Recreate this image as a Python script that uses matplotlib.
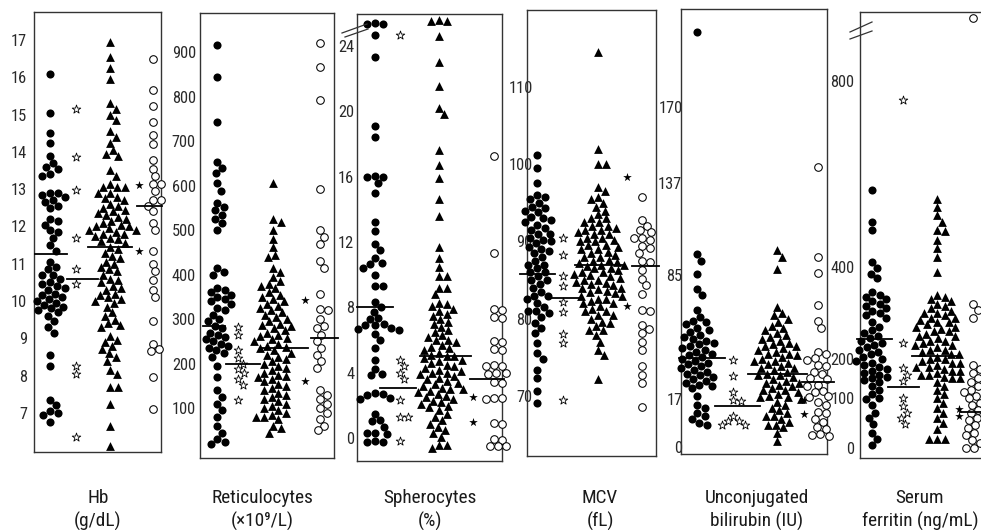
import numpy as np
import matplotlib
matplotlib.use("Agg")
import matplotlib.pyplot as plt
from matplotlib.lines import Line2D
from matplotlib import font_manager as fm

W, H = 981, 530

# pick a condensed sans font if one is installed
COND = ("condensed", "semi-condensed", "extra-condensed", "ultra-condensed")


def _is_regular(f):
    return f.style == "normal" and str(f.weight) in ("400", "normal", "regular", "book")


cands = [f for f in fm.fontManager.ttflist
         if _is_regular(f) and ("Narrow" in f.name or "Condensed" in f.name or str(f.stretch) in COND)]
prio = ["Liberation Sans Narrow", "Arial Narrow", "Roboto Condensed", "Open Sans Condensed",
        "Noto Sans", "DejaVu Sans Condensed", "DejaVu Sans"]
chosen = None
for p in prio:
    for f in cands:
        if f.name == p:
            chosen = f
            break
    if chosen:
        break
if chosen is None and cands:
    chosen = cands[0]
if chosen is not None:
    FP = fm.FontProperties(fname=chosen.fname)
else:
    FP = fm.FontProperties(family="Liberation Sans")

# ---------------- data ----------------
titles = ["Hb\n(g/dL)", "Reticulocytes\n(\u00d710\u2079/L)", "Spherocytes\n(%)", "MCV\n(fL)",
          "Unconjugated\nbilirubin (IU)", "Serum\nferritin (ng/mL)"]

hb_ticks = [7, 8, 9, 10, 11, 12, 13, 14, 15, 16, 17]
hb_circle = [16.1, 15.05, 14.5, 14.25, 13.9, 13.7, 13.6, 13.55, 13.4, 13.35, 12.9, 12.9, 12.85, 12.8,
             12.7, 12.65, 12.55, 12.5, 12.2, 12.15, 12.05, 11.9, 11.85, 11.7, 11.5, 11.35, 11.05, 10.9,
             10.85, 10.7, 10.7, 10.6, 10.5, 10.45, 10.4, 10.35, 10.3, 10.2, 10.15, 10.1, 10.05, 10.0,
             9.95, 9.9, 9.85, 9.8, 9.75, 9.7, 9.6, 9.45, 9.3, 9.15, 8.55, 8.25, 7.35, 7.2, 7.05, 7.0,
             6.95, 6.75]
hb_star = [15.15, 13.85, 12.97, 11.7, 10.85, 10.45, 8.25, 8.05, 6.35]
hb_tri = [16.95, 16.55, 16.25, 15.95, 15.3, 15.15, 15.0, 14.85, 14.55, 14.4, 14.25, 14.05, 13.95, 13.9,
          13.5, 13.35, 13.15, 13.05, 13.05, 13.05, 12.9, 12.9, 12.8, 12.75, 12.7, 12.6, 12.55, 12.5,
          12.45, 12.4, 12.35, 12.3, 12.25, 12.2, 12.15, 12.1, 12.05, 12.0, 12.0, 11.95, 11.9, 11.9,
          11.85, 11.8, 11.8, 11.75, 11.7, 11.65, 11.6, 11.55, 11.45, 11.4, 11.3, 11.2, 11.15, 11.05,
          11.0, 10.9, 10.85, 10.8, 10.7, 10.6, 10.55, 10.5, 10.4, 10.35, 10.3, 10.2, 10.15, 10.1,
          10.05, 10.0, 9.95, 9.85, 9.7, 9.6, 9.5, 9.4, 9.35, 9.3, 9.05, 8.95, 8.9, 8.8, 8.7, 8.6, 8.5,
          8.4, 8.15, 8.05, 7.7, 7.7, 7.25, 6.65, 6.1]
hb_fstar = [13.1, 11.35]
hb_ocircle = [16.5, 15.67, 15.22, 14.8, 14.45, 14.2, 13.78, 13.55, 13.35, 13.15, 13.15, 12.95, 12.7,
              12.7, 12.55, 12.4, 12.1, 11.9, 11.35, 11.0, 10.8, 10.55, 10.3, 10.1, 9.45, 8.85, 8.7,
              8.65, 7.95, 7.1]
hb_median = [11.25, 10.6, 11.45, 12.55]

ret_ticks = [100, 200, 300, 400, 500, 600, 700, 800, 900]
ret_circle = [916, 844, 743, 654, 640, 628, 605, 589, 562, 552, 545, 535, 525, 515, 500, 415, 405, 400,
              370, 365, 360, 355, 350, 345, 340, 335, 325, 320, 310, 300, 295, 285, 280, 270, 265, 260,
              255, 250, 245, 240, 235, 230, 225, 215, 195, 170, 140, 125, 110, 95, 80, 60, 45, 30, 25, 20]
ret_star = [283, 265, 231, 212, 200, 188, 178, 165, 152, 119]
ret_tri = [605, 525, 518, 500, 480, 462, 445, 440, 415, 405, 395, 385, 380, 375, 370, 360, 355, 350,
           345, 340, 335, 330, 325, 320, 315, 310, 305, 300, 295, 290, 288, 285, 280, 275, 270, 265,
           262, 258, 255, 250, 245, 240, 238, 235, 230, 225, 220, 215, 210, 205, 200, 195, 190, 185,
           180, 175, 172, 170, 165, 160, 155, 150, 145, 140, 135, 130, 125, 120, 115, 110, 105, 100,
           95, 90, 85, 80, 80, 75, 60, 55, 45]
ret_fstar = [343, 160]
ret_ocircle = [920, 866, 793, 593, 500, 485, 470, 430, 415, 356, 322, 320, 300, 285, 280, 265, 250,
               235, 220, 205, 190, 140, 130, 120, 110, 100, 90, 75, 60, 50]
ret_median = [285, 200, 236, 258]

sph_ticks = [0, 4, 8, 12, 16, 20, 24]
sph_circle = [25.4, 25.3, 25.3, 24.65, 23.3, 19.1, 18.4, 16.05, 16.0, 16.0, 15.6, 15.0, 13.2, 12.7,
              11.9, 11.5, 11.0, 10.7, 10.65, 10.4, 10.0, 9.3, 9.3, 8.35, 8.0, 7.75, 7.35, 7.3, 7.0,
              6.95, 6.9, 6.75, 6.7, 6.65, 6.4, 6.0, 5.5, 4.8, 4.25, 3.95, 3.85, 2.75, 2.7, 2.65, 2.45,
              2.4, 1.5, 1.1, 1.05, 0.7, 0.35, 0.3, 0.25, -0.15, -0.2, -0.25]
sph_star = [24.65, 4.8, 4.4, 4.0, 3.6, 2.35, 1.3, 1.3, -0.15]
sph_tri = [25.6, 25.5, 25.5, 24.6, 23.0, 21.55, 20.2, 19.8, 17.6, 16.7, 15.9, 14.6, 13.6, 11.7, 11.0,
           10.5, 9.95, 9.9, 9.2, 9.2, 8.8, 8.3, 8.2, 8.1, 7.9, 7.8, 7.6, 7.5, 7.3, 7.1, 7.0, 6.8, 6.6,
           6.5, 6.3, 6.2, 6.0, 6.0, 5.9, 5.7, 5.6, 5.5, 5.4, 5.2, 5.1, 5.0, 5.0, 4.9, 4.8, 4.7, 4.6,
           4.5, 4.4, 4.3, 4.2, 4.1, 4.0, 4.0, 3.9, 3.8, 3.7, 3.6, 3.5, 3.4, 3.3, 3.2, 3.1, 3.0, 3.0,
           2.9, 2.8, 2.7, 2.6, 2.5, 2.4, 2.3, 2.2, 2.1, 2.0, 1.9, 1.7, 1.5, 1.3, 1.1, 0.9, 0.7, 0.5,
           0.3, 0.1, -0.4, -0.4, -0.6]
sph_fstar = [2.5, 1.0]
sph_ocircle = [17.25, 11.3, 7.9, 7.85, 7.4, 7.35, 5.95, 5.9, 5.45, 5.4, 4.45, 4.4, 4.4, 4.0, 4.0,
               3.95, 3.45, 3.4, 2.45, 2.45, 2.4, 0.95, 0.9, -0.05, -0.1, -0.45, -0.5, -0.5]
sph_median = [8.05, 3.1, 5.05, 3.6]

mcv_ticks = [70, 80, 90, 100, 110]
mcv_circle = [101.2, 99.5, 97.6, 96.0, 95.8, 95.5, 95.0, 94.5, 94.3, 94.0, 93.8, 93.2, 93.0, 92.8,
              92.5, 92.2, 91.8, 91.5, 91.0, 91.0, 90.5, 90.2, 90.0, 89.8, 89.3, 89.0, 88.8, 88.5,
              88.0, 87.5, 87.0, 87.0, 86.5, 86.0, 86.0, 85.5, 85.0, 85.0, 84.5, 84.0, 83.5, 83.0,
              83.0, 82.5, 82.0, 81.5, 81.0, 81.0, 80.7, 80.2, 79.5, 78.8, 78.1, 76.8, 75.5, 74.8,
              73.4, 72.3, 70.6, 69.1]
mcv_star = [90.4, 88.3, 85.5, 84.2, 82.2, 80.9, 78.0, 76.8, 69.5]
mcv_tri = [114.6, 102.0, 100.1, 100.1, 97.0, 96.5, 95.8, 95.5, 95.0, 94.5, 94.0, 93.5, 93.0, 93.0,
           92.5, 92.5, 92.0, 92.0, 91.8, 91.5, 91.5, 91.2, 91.0, 91.0, 90.5, 90.5, 90.2, 90.0, 90.0,
           89.6, 89.5, 89.3, 89.0, 89.0, 88.6, 88.5, 88.3, 88.0, 88.0, 87.6, 87.5, 87.3, 87.2, 87.0,
           87.0, 86.8, 86.6, 86.5, 86.3, 86.0, 86.0, 85.8, 85.6, 85.5, 85.3, 85.0, 85.0, 84.8, 84.6,
           84.5, 84.3, 84.0, 84.0, 83.8, 83.6, 83.5, 83.3, 83.0, 83.0, 82.6, 82.5, 82.3, 82.0, 82.0,
           81.6, 81.3, 81.0, 81.0, 80.5, 80.5, 80.0, 79.6, 79.5, 79.0, 78.5, 78.5, 77.9, 77.0, 76.0,
           75.3, 72.2]
mcv_fstar = [98.4, 81.6]
mcv_ocircle = [95.8, 92.8, 92.0, 91.5, 91.2, 90.4, 90.4, 90.2, 89.4, 89.2, 88.5, 87.5, 87.4, 86.3,
               85.2, 84.3, 83.2, 81.1, 81.0, 79.2, 78.6, 78.1, 77.0, 76.0, 73.8, 72.7, 71.6, 68.6]
mcv_median = [85.8, 82.7, 86.9, 86.8]

bil_ticks = [0, 17, 85, 137, 170]
bil_circle = [203, 97, 93, 85.5, 77.5, 74, 66, 62, 60, 59, 58, 56, 55, 54, 52, 51, 50, 49, 48, 47,
              46, 45, 44, 43, 42, 41, 40, 39, 38, 37, 36, 35, 34, 33, 32, 31, 30, 29, 28, 27, 26, 25,
              24, 23, 18.5, 15, 14, 12, 11, 10, 8.5, 8]
bil_star = [38.4, 29.6, 21.0, 16.6, 16.5, 11.0, 9.3, 9.2, 7.8, 7.7]
bil_tri = [99, 95.3, 88.2, 67.6, 64, 63, 61, 59.4, 57, 56, 55, 53, 52, 51, 50, 49, 48, 47, 46, 46,
           45, 44, 43, 42, 42, 41, 40, 39, 38, 38, 37, 36, 35, 34, 34, 33, 32, 31, 30, 30, 29, 28,
           27, 26, 26, 25, 24, 23, 22, 22, 21, 20, 19, 18, 18, 17, 16, 15, 14, 13, 12, 11, 11, 10,
           9, 8, 8, 7, 5, 2]
bil_fstar = [16.6, 11.9]
bil_ocircle = [144, 95.3, 86.3, 68.5, 59.7, 55.7, 43, 42, 39.3, 38.5, 35.6, 35, 32, 31, 28.5, 28, 25,
               24.5, 21.5, 21, 18.5, 18, 16, 15, 12.5, 12, 10, 9, 7, 6.5, 4.5, 4.2, 4]
bil_median = [39.7, 14.5, 30.7, 26.5]

fer_ticks = [0, 100, 200, 400, 800]
fer_circle = [565, 497, 479, 411, 397, 385, 375, 345, 340, 335, 330, 325, 320, 315, 310, 305, 300,
              295, 290, 280, 270, 262, 256, 250, 245, 240, 235, 230, 225, 220, 215, 210, 205, 200, 195,
              190, 185, 180, 175, 170, 165, 160, 155, 150, 145, 140, 130, 120, 110, 100, 97, 85, 70,
              60, 47, 30, 17, 5]
fer_star = [759, 234, 176, 160, 143, 100, 83, 70, 60, 47]
fer_tri = [546, 529, 511, 497, 479, 477, 457, 440, 422, 390, 340, 335, 330, 325, 320, 315, 310, 305,
           300, 300, 295, 290, 290, 285, 280, 280, 275, 270, 270, 265, 260, 260, 255, 250, 250, 245,
           240, 240, 235, 230, 230, 225, 220, 220, 215, 210, 210, 205, 200, 200, 195, 190, 190, 185,
           180, 180, 175, 170, 170, 165, 160, 160, 155, 150, 150, 140, 130, 120, 110, 100, 90, 80, 70,
           60, 50, 37, 17, 17, 17]
fer_fstar = [77, 63]
fer_ocircle = [935, 320, 306, 288, 185, 175, 165, 150, 140, 130, 120, 115, 105, 100, 90, 85, 75, 70,
               60, 55, 45, 40, 30, 25, 15, 10, 0, 0]
fer_median = [243, 128, 206, 71]

# ---------------- layout (pixels) ----------------
boxes = [(34, 161, 12, 452), (200, 334, 13, 458), (357, 502, 14, 461),
         (527, 656, 10, 456), (681, 827, 9, 454), (860, 995, 12, 458)]
ylims = [(5.95, 17.75), (-12, 988), (-1.39, 25.94), (62.2, 120.0), (-2.5, 213), (-20, 948)]
cols = [(50, 76, 110, 139, 153), (217, 238, 273, 305, 320), (375, 400, 439, 473, 494),
        (537, 563, 598, 627, 642), (697, 733, 777, 804, 818), (872, 903, 937, 959, 973)]
med_spans = [[(35, 67), (67, 98), (88, 132), (137, 162)],
             [(203, 225), (226, 260), (260, 308), (311, 338)],
             [(357, 393), (380, 416), (420, 471), (470, 504)],
             [(520, 555), (548, 583), (575, 623), (632, 659)],
             [(679, 725), (715, 760), (748, 807), (802, 834)],
             [(857, 892), (888, 919), (912, 960), (960, 982)]]
pads = [5, 3, 2, -4, -1, 4]
title_x = [98, 262, 430, 600, 757, 920]

panels = [
    (hb_ticks, hb_circle, hb_star, hb_tri, hb_fstar, hb_ocircle, hb_median),
    (ret_ticks, ret_circle, ret_star, ret_tri, ret_fstar, ret_ocircle, ret_median),
    (sph_ticks, sph_circle, sph_star, sph_tri, sph_fstar, sph_ocircle, sph_median),
    (mcv_ticks, mcv_circle, mcv_star, mcv_tri, mcv_fstar, mcv_ocircle, mcv_median),
    (bil_ticks, bil_circle, bil_star, bil_tri, bil_fstar, bil_ocircle, bil_median),
    (fer_ticks, fer_circle, fer_star, fer_tri, fer_fstar, fer_ocircle, fer_median),
]

pw_knots = {4: ([0, 17, 85, 137, 170], [7, 54.7, 179, 271, 346.4]),
            5: ([0, 100, 200, 400, 800], [10, 60, 99, 191, 377])}


def make_pw(vals, pos):
    vals = np.asarray(vals, float)
    pos = np.asarray(pos, float)
    s0 = (pos[1] - pos[0]) / (vals[1] - vals[0])
    s1 = (pos[-1] - pos[-2]) / (vals[-1] - vals[-2])

    def fwd(v):
        v = np.asarray(v, float)
        out = np.interp(v, vals, pos)
        out = np.where(v < vals[0], pos[0] + (v - vals[0]) * s0, out)
        out = np.where(v > vals[-1], pos[-1] + (v - vals[-1]) * s1, out)
        return out

    def inv(p):
        p = np.asarray(p, float)
        out = np.interp(p, pos, vals)
        out = np.where(p < pos[0], vals[0] + (p - pos[0]) / s0, out)
        out = np.where(p > pos[-1], vals[-1] + (p - pos[-1]) / s1, out)
        return out
    return fwd, inv


def swarm(ax, x0, yvals, D):
    yv = np.asarray(yvals, float)
    ypx = ax.transData.transform(np.column_stack([np.full(len(yv), x0), yv]))[:, 1]
    order = np.argsort(-ypx)
    placed = []
    offs = np.zeros(len(yv))
    for i in order:
        y = ypx[i]
        near = [(px, py) for px, py in placed if abs(py - y) < D]
        best = 0.0
        for k in range(0, 400):
            cands_o = [0.0] if k == 0 else [k * 0.5, -k * 0.5]
            found = False
            for o in cands_o:
                if all((o - px) ** 2 + (y - py) ** 2 >= D * D for px, py in near):
                    best = o
                    found = True
                    break
            if found:
                break
        placed.append((best, y))
        offs[i] = best
    return x0 + offs


fig = plt.figure(figsize=(W / 100, H / 100), dpi=100)
renderer = fig.canvas.get_renderer()


def fit_size(text, target_w, base=10.0):
    t = fig.text(0, 0, text, fontproperties=FP, fontsize=base)
    w = t.get_window_extent(renderer).width
    t.remove()
    return base * target_w / w


tick_fs = min(fit_size("900", 24), 13.5)
title_fs = min(fit_size("Reticulocytes", 101), 14.5)

INK = "#000000"
for i, (ticks, circ, star, tri, fstar, ocirc, med) in enumerate(panels):
    l, r, t, b = boxes[i]
    ax = fig.add_axes([l / W, 1 - b / H, (r - l) / W, (b - t) / H])
    ax.set_xlim(l, r)
    if i in pw_knots:
        fwd, inv = make_pw(*pw_knots[i])
        ax.set_yscale("function", functions=(fwd, inv))
    ax.set_ylim(*ylims[i])
    ax.set_xticks([])
    ax.set_yticks(ticks)
    ax.set_yticklabels([str(v) for v in ticks])
    ax.yaxis.set_minor_locator(matplotlib.ticker.NullLocator())
    ax.tick_params(axis="y", length=0, pad=pads[i], labelcolor="#2a2a2a")
    for lbl in ax.get_yticklabels():
        lbl.set_fontproperties(FP)
        lbl.set_fontsize(tick_fs)
    for s in ax.spines.values():
        s.set_linewidth(1.0)
        s.set_color("#333333")
    c = cols[i]
    ax.scatter(swarm(ax, c[0], circ, 7.8), circ, s=34, marker="o", color=INK, linewidths=0, clip_on=False, zorder=3)
    ax.scatter(swarm(ax, c[1], star, 7.2), star, s=42, marker="*", facecolor="white", edgecolor=INK,
               linewidths=0.6, clip_on=False, zorder=3)
    ax.scatter(swarm(ax, c[2], tri, 7.8), tri, s=40, marker="^", color=INK, linewidths=0, clip_on=False, zorder=3)
    ax.scatter(swarm(ax, c[3], fstar, 7.0), fstar, s=42, marker="*", color=INK, linewidths=0, clip_on=False, zorder=3)
    ax.scatter(swarm(ax, c[4], ocirc, 7.6), ocirc, s=30, marker="o", facecolor="white", edgecolor=INK,
               linewidths=0.75, clip_on=False, zorder=3)
    for (x1, x2), m in zip(med_spans[i], med):
        ax.plot([x1, x2], [m, m], color=INK, lw=1.3, clip_on=False, zorder=4)
    fig.text(title_x[i] / W, 1 - 510 / H, titles[i], ha="center", va="center", fontproperties=FP,
             fontsize=title_fs, color="#1a1a1a", linespacing=1.3)

for (x1, y1, x2, y2) in [(342, 33, 367, 24), (345, 37, 368, 29), (850, 32, 872, 22), (850, 39, 872, 31)]:
    fig.add_artist(Line2D([x1 / W, x2 / W], [1 - y1 / H, 1 - y2 / H], transform=fig.transFigure,
                          color="#333333", lw=0.9))

fig.savefig("out.png", dpi=100)
